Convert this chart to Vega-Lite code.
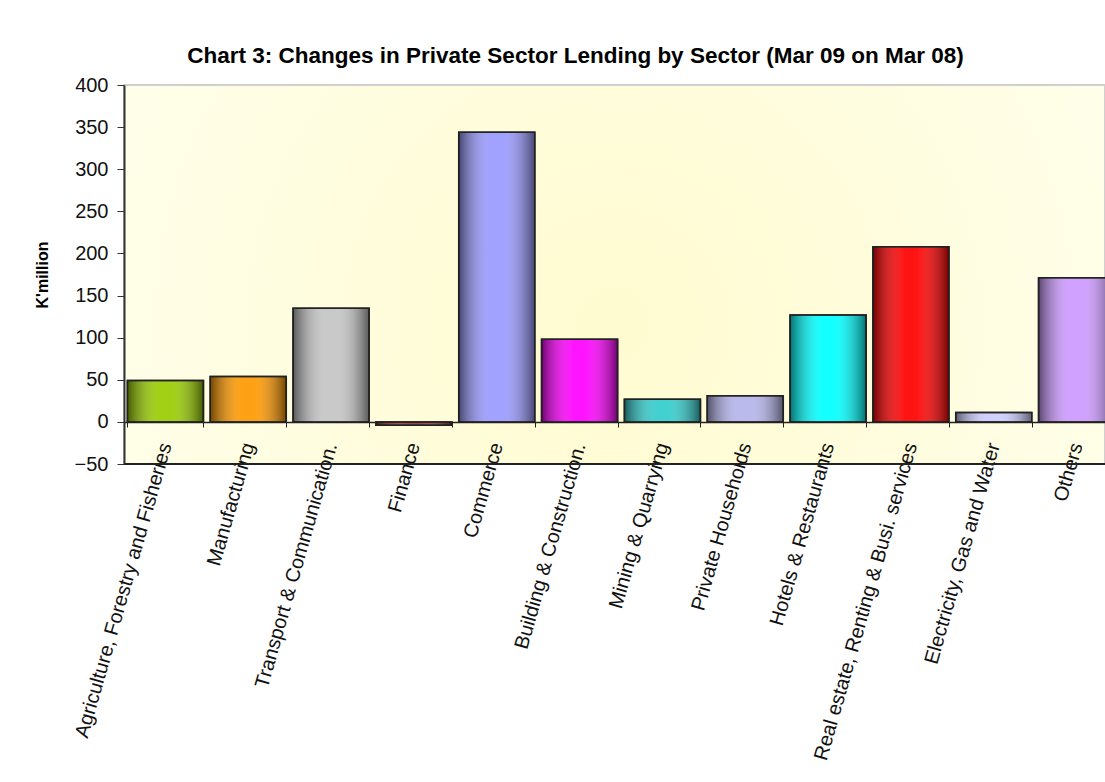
{
  "$schema": "https://vega.github.io/schema/vega-lite/v6.json",
  "width": 981,
  "height": 379,
  "autosize": {"type": "none"},
  "padding": {"left": 124, "top": 85, "right": 0, "bottom": 318},
  "background": "white",
  "config": {
    "font": "Liberation Sans",
    "view": {
      "stroke": "#d0d0d0",
      "strokeWidth": 2,
      "fill": {"gradient": "radial", "x1": 0.5, "y1": 0.55, "x2": 0.5, "y2": 0.55, "r1": 0, "r2": 0.7,
        "stops": [{"offset": 0, "color": "#fffbd0"}, {"offset": 1, "color": "#fffff0"}]}
    }
  },
  "title": {
    "text": "Chart 3: Changes in Private Sector Lending by Sector (Mar 09 on Mar 08)",
    "font": "Liberation Sans",
    "fontSize": 22.5,
    "fontWeight": "bold",
    "color": "#000000",
    "anchor": "middle",
    "frame": "group",
    "dx": -39,
    "offset": 8
  },
  "data": {
    "values": [
      {"sector": "Agriculture, Forestry and Fisheries", "value": 49},
      {"sector": "Manufacturing", "value": 54},
      {"sector": "Transport & Communication.", "value": 135},
      {"sector": "Finance", "value": -4},
      {"sector": "Commerce", "value": 344},
      {"sector": "Building & Construction.", "value": 98},
      {"sector": "Mining & Quarrying", "value": 27},
      {"sector": "Private Households", "value": 31},
      {"sector": "Hotels & Restaurants", "value": 127},
      {"sector": "Real estate, Renting & Busi. services", "value": 208},
      {"sector": "Electricity, Gas and Water", "value": 11},
      {"sector": "Others", "value": 171}
    ]
  },
  "encoding": {
    "x": {
      "field": "sector",
      "type": "nominal",
      "sort": null,
      "scale": {"range": [0, 994], "paddingInner": 0.082, "paddingOuter": 0.041},
      "axis": {
        "title": null,
        "orient": "bottom",
        "offset": -42,
        "domainColor": "#222222",
        "domainWidth": 1.5,
        "tickBand": "extent",
        "tickColor": "#222222",
        "tickSize": 5,
        "labelAngle": -74,
        "labelFontSize": 20,
        "labelColor": "#111111",
        "labelPadding": 16,
        "labelLimit": 0,
        "labelOverlap": false
      }
    }
  },
  "layer": [
    {
      "mark": {"type": "bar", "clip": true, "stroke": "#222222", "strokeWidth": 1.5},
      "encoding": {
        "y": {
          "field": "value",
          "type": "quantitative",
          "scale": {"domain": [-50, 400], "nice": false, "zero": false},
          "axis": {
            "title": "K'million",
            "titleFontSize": 16,
            "titleFontWeight": "bold",
            "titleColor": "#000000",
            "titlePadding": 24,
            "values": [-50, 0, 50, 100, 150, 200, 250, 300, 350, 400],
            "grid": false,
            "domainColor": "#333333",
            "domainWidth": 2,
            "tickColor": "#333333",
            "tickSize": 7,
            "labelFontSize": 20,
            "labelColor": "#111111",
            "labelPadding": 9
          }
        },
        "color": {
          "field": "sector",
          "type": "nominal",
          "sort": null,
          "legend": null,
          "scale": {"range": ["#99cc00", "#ff9900", "#c4c4c4", "#993333", "#9999ff", "#ff00ff", "#33cccc", "#b4b4ec", "#00ffff", "#ff0000", "#ccccff", "#cc99ff"]}
        }
      }
    },
    {
      "mark": {
        "type": "bar",
        "clip": true,
        "stroke": "#222222",
        "strokeWidth": 1.5,
        "fill": {"gradient": "linear", "x1": 0, "y1": 0, "x2": 1, "y2": 0,
          "stops": [
            {"offset": 0, "color": "rgba(0,0,0,0.55)"},
            {"offset": 0.42, "color": "rgba(255,255,255,0.08)"},
            {"offset": 0.58, "color": "rgba(255,255,255,0.08)"},
            {"offset": 1, "color": "rgba(0,0,0,0.55)"}
          ]}
      },
      "encoding": {
        "y": {"field": "value", "type": "quantitative"}
      }
    },
    {
      "mark": {"type": "rule", "color": "#222222", "strokeWidth": 2},
      "encoding": {"y": {"datum": -50}, "x": {"value": 0}, "x2": {"value": 994}}
    }
  ]
}
